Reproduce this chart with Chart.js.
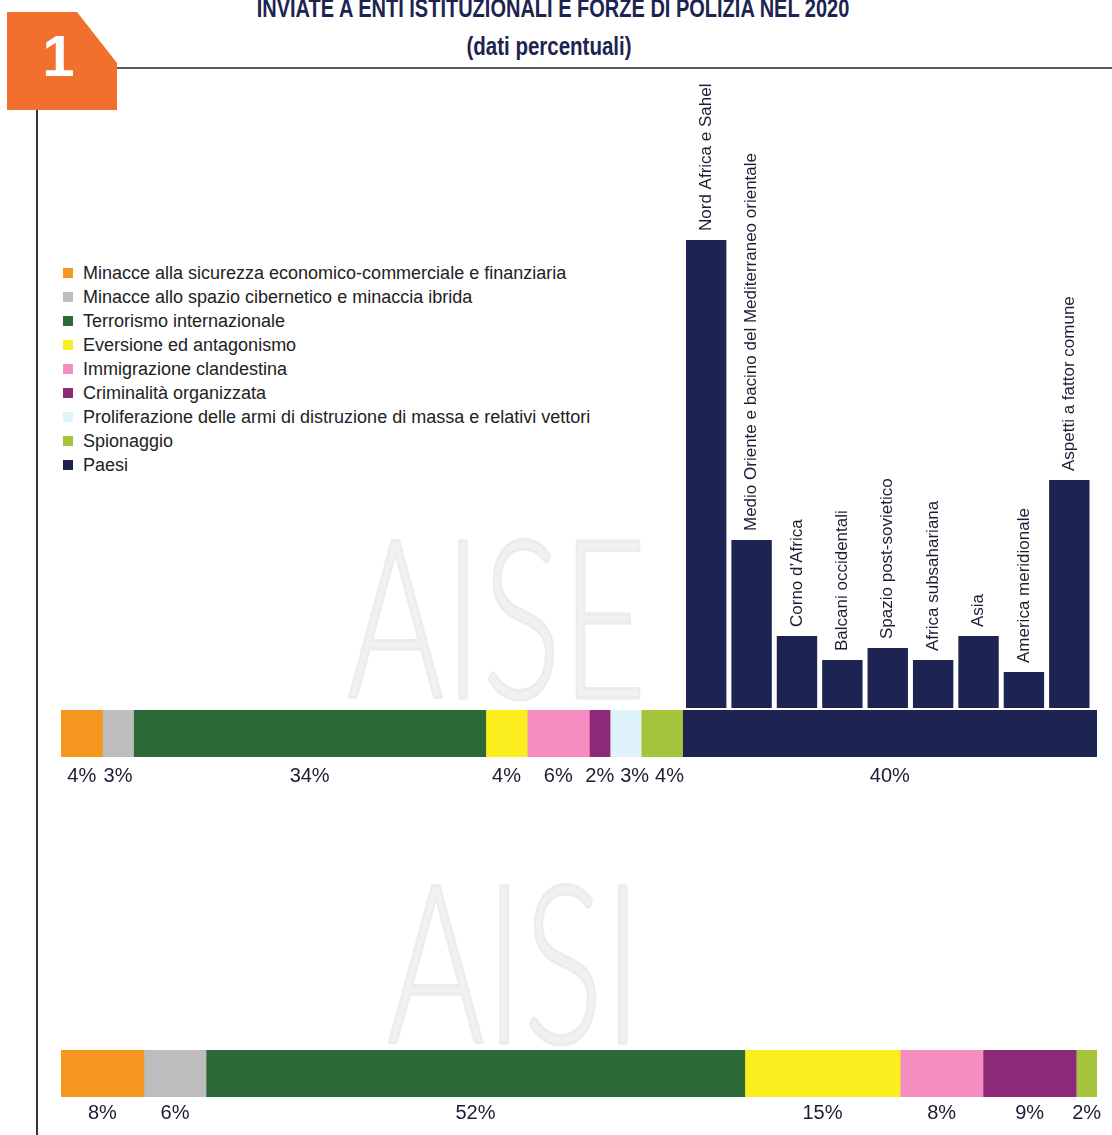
<!DOCTYPE html>
<html lang="it">
<head>
<meta charset="utf-8">
<title>AISE / AISI - informative 2020</title>
<script src="https://cdn.jsdelivr.net/npm/chart.js@4.4.1/dist/chart.umd.min.js"></script>
<style>
  html, body { margin: 0; padding: 0; background: #fff; }
  body {
    width: 1112px; height: 1135px; position: relative; overflow: hidden;
    font-family: "Liberation Sans", Arial, sans-serif; color: #222;
  }
  .abs { position: absolute; }
  #tab {
    left: 7px; top: 12px; width: 110px; height: 98px; background: #f2702e;
    clip-path: polygon(0 0, 70px 0, 110px 51px, 110px 98px, 0 98px);
  }
  #tab span {
    position: absolute; left: 0; top: 15px; width: 103px; text-align: center;
    color: #fff; font: bold 58px/58px "Liberation Sans", Arial, sans-serif;
  }
  #riga-h { left: 117px; top: 67px; width: 995px; height: 2px; background: #5a5a5a; }
  #riga-v { left: 36px; top: 110px; width: 2px; height: 1025px; background: #333; }
  .titolo {
    left: 0; width: 1106px; text-align: center; color: #1d2452;
    font-family: "Liberation Sans", Arial, sans-serif;
    font-weight: bold; white-space: nowrap; font-size: 25px; line-height: 25px;
  }
  #titolo1 { top: -4px; transform: scaleX(0.80); }
  #titolo2 { top: 34px; transform: scaleX(0.82); left: -4px; }
  #legenda { left: 63px; top: 261px; }
  .voce { display: flex; align-items: center; height: 24px; font-size: 18px; color: #222; white-space: nowrap; }
  .quadrato { width: 10px; height: 10px; margin-right: 10px; flex: none; }
  #filigrana { left: 0; top: 0; }
  canvas { position: absolute; }
</style>
</head>
<body>

<div id="tab" class="abs"><span>1</span></div>
<div id="titolo1" class="abs titolo">INVIATE A ENTI ISTITUZIONALI E FORZE DI POLIZIA NEL 2020</div>
<div id="titolo2" class="abs titolo">(dati percentuali)</div>
<div id="riga-h" class="abs"></div>
<div id="riga-v" class="abs"></div>

<svg id="filigrana" class="abs" width="1112" height="1135">
  <g fill="#f1f1f1" stroke="#ececec" stroke-width="3" stroke-linejoin="round" font-family="Lato, 'DejaVu Sans', sans-serif" font-weight="300" font-size="222">
    <text x="347" y="698" textLength="300" lengthAdjust="spacingAndGlyphs">AISE</text>
    <text x="387" y="1043" textLength="255" lengthAdjust="spacingAndGlyphs">AISI</text>
  </g>
</svg>

<div id="legenda" class="abs"></div>

<canvas id="graficoPaesi" width="416" height="640" style="left:680px; top:70px;"></canvas>
<canvas id="graficoAise" width="1112" height="100" style="left:0; top:700px;"></canvas>
<canvas id="graficoAisi" width="1112" height="95" style="left:0; top:1040px;"></canvas>

<script>
// -------------------- DATI --------------------
const categorie = [
  'Minacce alla sicurezza economico-commerciale e finanziaria',
  'Minacce allo spazio cibernetico e minaccia ibrida',
  'Terrorismo internazionale',
  'Eversione ed antagonismo',
  'Immigrazione clandestina',
  'Criminalità organizzata',
  'Proliferazione delle armi di distruzione di massa e relativi vettori',
  'Spionaggio',
  'Paesi'
];
const colori = ['#f5961e', '#bdbdbd', '#2b6a36', '#fbee1e', '#f58dc0', '#8c2a78', '#e1f3fa', '#a6c43b', '#1d2452'];

const valoriAise = [4, 3, 34, 4, 6, 2, 3, 4, 40];
const valoriAisi = [8, 6, 52, 15, 8, 9, 0, 2, 0];

const paesi = [
  'Nord Africa e Sahel',
  'Medio Oriente e bacino del Mediterraneo orientale',
  'Corno d\u2019Africa',
  'Balcani occidentali',
  'Spazio post-sovietico',
  'Africa subsahariana',
  'Asia',
  'America meridionale',
  'Aspetti a fattor comune'
];
const valoriPaesi = [39, 14, 6, 4, 5, 4, 6, 3, 19];

const FONT = '"Liberation Sans", Arial, sans-serif';
const COLORE_TESTO = '#1b1e30';

Chart.defaults.font.family = FONT;

// -------------------- LEGENDA --------------------
const legenda = document.getElementById('legenda');
categorie.forEach((nome, i) => {
  const riga = document.createElement('div');
  riga.className = 'voce';
  riga.innerHTML = `<span class="quadrato" style="background:${colori[i]}"></span>${nome}`;
  legenda.appendChild(riga);
});

// -------------------- PLUGIN ETICHETTE --------------------
function pluginPercentuali(distanza) {
  return {
    id: 'etichettePercentuali',
    afterDatasetsDraw(chart) {
      const ctx = chart.ctx;
      const y = chart.chartArea.bottom + distanza;
      ctx.save();
      ctx.font = `20px ${FONT}`;
      ctx.fillStyle = COLORE_TESTO;
      ctx.textAlign = 'center';
      ctx.textBaseline = 'middle';
      let limite = -Infinity;
      chart.data.datasets.forEach((ds, i) => {
        const v = ds.data[0];
        if (!v) return;
        const barra = chart.getDatasetMeta(i).data[0];
        const testo = v + '%';
        const w = ctx.measureText(testo).width;
        let x = (barra.x + barra.base) / 2;
        x = Math.max(x, limite + 6 + w / 2);
        ctx.fillText(testo, x, y);
        limite = x + w / 2;
      });
      ctx.restore();
    }
  };
}

const etichettePaesi = {
  id: 'etichettePaesi',
  afterDatasetsDraw(chart) {
    const ctx = chart.ctx;
    ctx.save();
    ctx.font = `17px ${FONT}`;
    ctx.fillStyle = COLORE_TESTO;
    ctx.textAlign = 'left';
    ctx.textBaseline = 'middle';
    chart.getDatasetMeta(0).data.forEach((barra, i) => {
      ctx.save();
      ctx.translate(barra.x, barra.y - 9);
      ctx.rotate(-Math.PI / 2);
      ctx.fillText(chart.data.labels[i], 0, 0);
      ctx.restore();
    });
    ctx.restore();
  }
};

// -------------------- BARRE IMPILATE --------------------
function creaBarraImpilata(idCanvas, valori, padding, distanzaEtichette) {
  return new Chart(document.getElementById(idCanvas), {
    type: 'bar',
    data: {
      labels: [''],
      datasets: categorie.map((nome, i) => ({
        label: nome,
        data: [valori[i]],
        backgroundColor: colori[i],
        borderWidth: 0,
        barPercentage: 1,
        categoryPercentage: 1
      }))
    },
    options: {
      indexAxis: 'y',
      responsive: false,
      animation: false,
      layout: { padding: padding },
      plugins: { legend: { display: false }, tooltip: { enabled: false } },
      scales: {
        x: { stacked: true, min: 0, max: 100, display: false },
        y: { stacked: true, display: false }
      }
    },
    plugins: [pluginPercentuali(distanzaEtichette)]
  });
}

creaBarraImpilata('graficoAise', valoriAise, { left: 61, right: 15, top: 10, bottom: 43 }, 19);
creaBarraImpilata('graficoAisi', valoriAisi, { left: 61, right: 15, top: 10, bottom: 38 }, 16);

// -------------------- PAESI --------------------
new Chart(document.getElementById('graficoPaesi'), {
  type: 'bar',
  data: {
    labels: paesi,
    datasets: [{
      label: 'Paesi',
      data: valoriPaesi,
      backgroundColor: colori[8],
      borderWidth: 0,
      barPercentage: 0.89,
      categoryPercentage: 1
    }]
  },
  options: {
    responsive: false,
    animation: false,
    layout: { padding: { left: 3.5, right: 4, top: 38, bottom: 2 } },
    plugins: { legend: { display: false }, tooltip: { enabled: false } },
    scales: {
      x: { display: false },
      y: { display: false, min: 0, max: 50 }
    }
  },
  plugins: [etichettePaesi]
});
</script>
</body>
</html>
